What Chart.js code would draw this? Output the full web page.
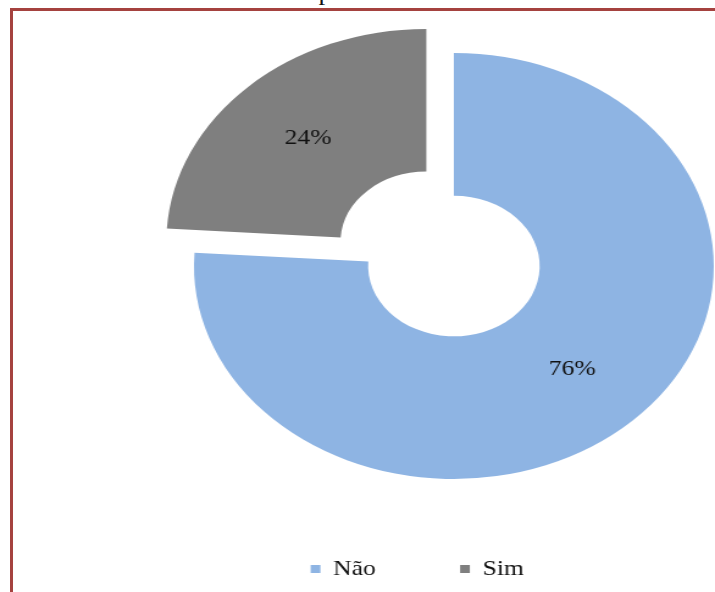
<!DOCTYPE html>
<html>
<head>
<meta charset="utf-8">
<script src="https://cdn.jsdelivr.net/npm/chart.js@4"></script>
<style>
  html, body { margin: 0; padding: 0; width: 715px; height: 592px; overflow: hidden; background: #fff; }
  /* frame round the chart, it runs off the right and bottom of the picture */
  #frame { position: absolute; left: 10px; top: 8px; width: 800px; height: 700px; border: 3px solid #a5423f; box-sizing: border-box; }
  /* last line of the title, mostly cut off at the top */
  #title { position: absolute; left: 0; top: -18px; width: 566px; text-align: center; font: 22px "Liberation Serif"; line-height: 22px; color: #111;
           transform: scaleX(1.2201); transform-origin: 0 0; }
  /* the original picture was stretched sideways, so the whole chart is too */
  #wrap { position: absolute; left: 0; top: 0; width: 586px; height: 592px; transform: scaleX(1.2201); transform-origin: 0 0; }
</style>
</head>
<body>
<div id="frame"></div>
<div id="title">competências</div>
<div id="wrap"><canvas id="myChart" width="586" height="592"></canvas></div>
<script>
// Data
const categories = ['Não', 'Sim']
const sliceValues = [76, 24]

// Formatting
const sliceColors = ['#8eb4e3', '#7f7f7f']
const sliceOffsets = [0, 132]
const textColor = '#111111'
const fontFamily = '"Liberation Serif", "Times New Roman", serif'

// Percent labels in the middle of each ring slice
const sliceLabels = {
    id: 'sliceLabels',
    afterDatasetsDraw(chart) {
        const ctx = chart.ctx
        const meta = chart.getDatasetMeta(0)
        ctx.save()
        ctx.font = '21px ' + fontFamily
        ctx.fillStyle = textColor
        ctx.textAlign = 'center'
        ctx.textBaseline = 'middle'
        meta.data.forEach((arc, i) => {
            const p = arc.getProps(['x', 'y', 'startAngle', 'endAngle', 'innerRadius', 'outerRadius'], true)
            const a = (p.startAngle + p.endAngle) / 2
            // arcs are pushed out by a quarter of their offset
            const r = (p.innerRadius + p.outerRadius) / 2 + (arc.options.offset || 0) / 4
            ctx.fillText(sliceValues[i] + '%', p.x + Math.cos(a) * r, p.y + Math.sin(a) * r)
        })
        ctx.restore()
    }
}

drawChart()

// Draws the doughnut chart
function drawChart() {
    Chart.defaults.font.family = fontFamily
    const ctx = document.getElementById('myChart').getContext('2d')
    const config = {
        type: 'doughnut',
        data: {
            labels: categories,
            datasets: [{
                data: sliceValues,
                backgroundColor: sliceColors,
                borderWidth: 0,
                offset: sliceOffsets,
                hoverOffset: 0,
                clip: false
            }]
        },
        options: {
            responsive: false,
            animation: false,
            devicePixelRatio: 1,
            radius: 213,
            cutout: '33%',
            layout: {
                padding: { left: 185.6, right: 27.6, top: 42.5, bottom: 2.5 }
            },
            plugins: {
                title: { display: false },
                tooltip: { enabled: false },
                legend: {
                    position: 'bottom',
                    align: 'start',
                    labels: {
                        boxWidth: 8,
                        boxHeight: 8,
                        padding: 69,
                        color: textColor,
                        font: { size: 21, family: fontFamily }
                    }
                }
            }
        },
        plugins: [sliceLabels]
    }
    const myChart = new Chart(ctx, config)
}
</script>
</body>
</html>
